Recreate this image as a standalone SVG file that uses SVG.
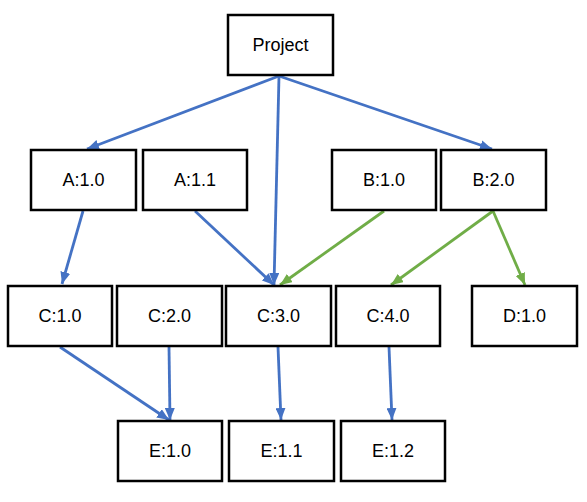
<svg xmlns="http://www.w3.org/2000/svg" width="587" height="502" viewBox="0 0 587 502">
<style>
.box{fill:#fff;stroke:#000;stroke-width:2.5}
.lbl{font-family:"Liberation Sans",Arial,sans-serif;font-size:18px;fill:#000;text-anchor:middle;dominant-baseline:central}
.b{stroke:#4472C4;stroke-width:2.8;fill:none;marker-end:url(#ab)}
.g{stroke:#70AD47;stroke-width:2.8;fill:none;marker-end:url(#ag)}
</style>
<defs>
<marker id="ab" viewBox="0 0 12 10" refX="12" refY="5" markerWidth="12" markerHeight="10" markerUnits="userSpaceOnUse" orient="auto"><path d="M0,0 L12,5 L0,10 z" fill="#4472C4"/></marker>
<marker id="ag" viewBox="0 0 12 10" refX="12" refY="5" markerWidth="12" markerHeight="10" markerUnits="userSpaceOnUse" orient="auto"><path d="M0,0 L12,5 L0,10 z" fill="#70AD47"/></marker>
</defs>
<rect width="587" height="502" fill="#fff"/>
<g id="connectors">
<line class="b" x1="279" y1="76" x2="87" y2="149"/>
<line class="b" x1="279" y1="76" x2="274" y2="285"/>
<line class="b" x1="279" y1="76" x2="492" y2="149"/>
<line class="b" x1="83" y1="211" x2="62" y2="284"/>
<line class="b" x1="195" y1="211" x2="274" y2="285"/>
<line class="g" x1="384" y1="211" x2="280" y2="285"/>
<line class="g" x1="493" y1="211" x2="391" y2="285"/>
<line class="g" x1="493" y1="211" x2="525" y2="285"/>
<line class="b" x1="60" y1="347" x2="169" y2="420"/>
<line class="b" x1="169" y1="347" x2="170" y2="420"/>
<line class="b" x1="278" y1="347" x2="281" y2="420"/>
<line class="b" x1="389" y1="347" x2="392" y2="420"/>
</g>
<g id="project"><rect class="box" x="228" y="15" width="105" height="60"/><text class="lbl" x="280.5" y="45">Project</text></g>
<g id="a10"><rect class="box" x="31" y="150" width="105" height="60"/><text class="lbl" x="83.5" y="180">A:1.0</text></g>
<g id="a11"><rect class="box" x="143" y="150" width="104" height="60"/><text class="lbl" x="195" y="180">A:1.1</text></g>
<g id="b10"><rect class="box" x="332" y="150" width="104" height="60"/><text class="lbl" x="384" y="180">B:1.0</text></g>
<g id="b20"><rect class="box" x="441" y="150" width="105" height="60"/><text class="lbl" x="493.5" y="180">B:2.0</text></g>
<g id="c10"><rect class="box" x="8" y="286" width="104" height="60"/><text class="lbl" x="60" y="316">C:1.0</text></g>
<g id="c20"><rect class="box" x="117" y="286" width="105" height="60"/><text class="lbl" x="169.5" y="316">C:2.0</text></g>
<g id="c30"><rect class="box" x="226" y="286" width="105" height="60"/><text class="lbl" x="278.5" y="316">C:3.0</text></g>
<g id="c40"><rect class="box" x="336" y="286" width="104" height="60"/><text class="lbl" x="388" y="316">C:4.0</text></g>
<g id="d10"><rect class="box" x="472" y="286" width="105" height="60"/><text class="lbl" x="524.5" y="316">D:1.0</text></g>
<g id="e10"><rect class="box" x="118" y="421" width="104" height="60"/><text class="lbl" x="170" y="451">E:1.0</text></g>
<g id="e11"><rect class="box" x="229" y="421" width="105" height="60"/><text class="lbl" x="281.5" y="451">E:1.1</text></g>
<g id="e12"><rect class="box" x="341" y="421" width="104" height="60"/><text class="lbl" x="393" y="451">E:1.2</text></g>
</svg>
